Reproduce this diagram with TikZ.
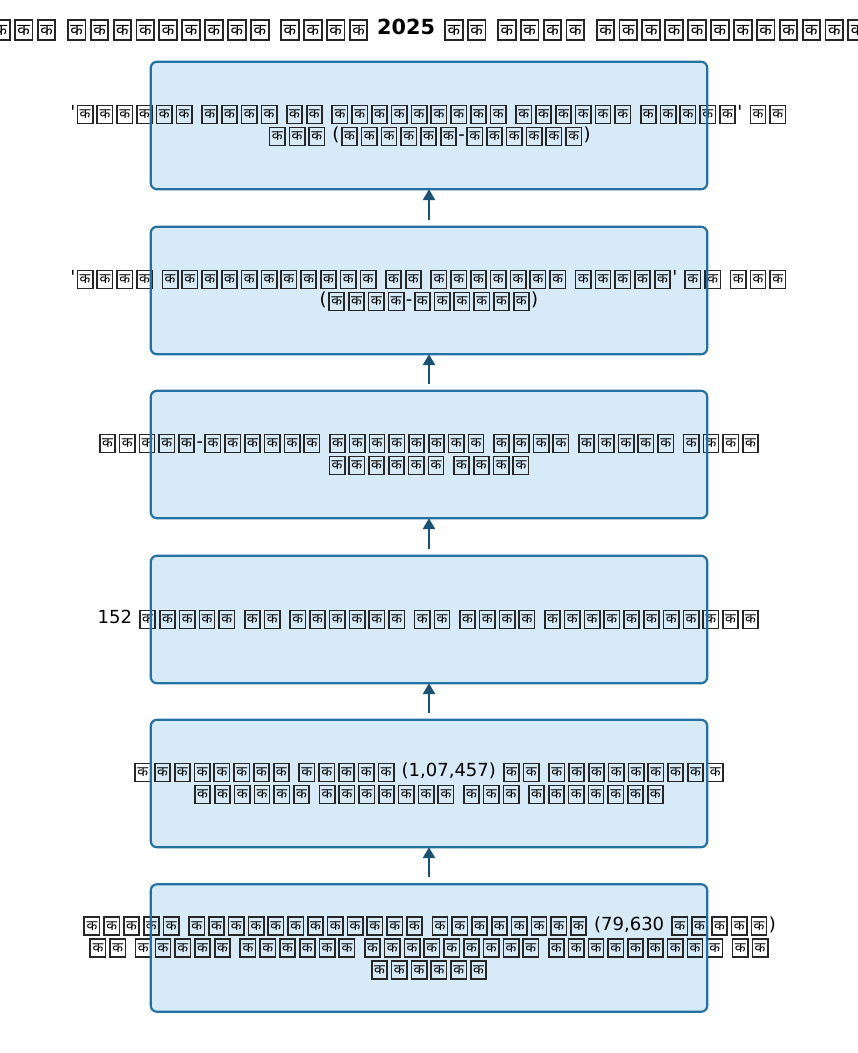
\documentclass[tikz,border=0pt]{standalone}
\usepackage{fontspec}
\setmainfont{DejaVu Sans}
\newfontfamily\devf[Script=Devanagari]{Noto Sans}
\definecolor{boxfill}{HTML}{D6EAF8}
\definecolor{boxedge}{HTML}{2471A3}
\definecolor{arrowc}{HTML}{1A5276}
\newcommand\kb{\kern0.08em\relax\raisebox{-0.21em}{\color{black!85}\setlength\fboxsep{0pt}\setlength\fboxrule{0.09em}\fbox{\vbox to 0.9em{\vss\hbox to 0.76em{\hss\color{black}\devf\scalebox{0.78}{क}\hss}\vss}}}\kern0.08em\relax}
\ExplSyntaxOn
\NewDocumentCommand\kx{m}{\prg_replicate:nn{#1}{\kb}}
\ExplSyntaxOff
\usetikzlibrary{arrows.meta}
\tikzset{
  stepfill/.style={fill=boxfill, draw=none, rounded corners=6pt, minimum width=556pt, minimum height=127pt, inner sep=0pt},
  stepline/.style={draw=boxedge, line width=2.2pt, rounded corners=6pt},
  steptext/.style={align=center, font=\fontsize{18}{22}\selectfont, inner sep=0pt},
  flow/.style={draw=arrowc, line width=2.7pt, -{Triangle[length=11pt,width=12pt]}},
  titletext/.style={font=\fontsize{20.8}{25}\selectfont\bfseries, inner sep=0pt}
}
\begin{document}
\begin{tikzpicture}[x=1pt,y=-1pt]
\useasboundingbox (0,0) rectangle (858,1053);
\node[titletext] (title) at (429,30) {\kx{3} \kx{9} \kx{4} 2025 \kx{2} \kx{4} \kx{12}};
\node[stepfill] (b1) at (429,125.5) {};
\node[stepfill] (b2) at (429,290.5) {};
\node[stepfill] (b3) at (429,454.5) {};
\node[stepfill] (b4) at (429,619.5) {};
\node[stepfill] (b5) at (429,783.5) {};
\node[stepfill] (b6) at (429,948) {};
\node[steptext] (t1) at (b1.center) {\textquotesingle\kx{6} \kx{4} \kx{2} \kx{9} \kx{6} \kx{5}\textquotesingle{} \kx{2}\\ \kx{3} (\kx{6}-\kx{6})};
\node[steptext] (t2) at (b2.center) {\textquotesingle\kx{4} \kx{11} \kx{2} \kx{7} \kx{5}\textquotesingle{} \kx{2} \kx{3}\\ (\kx{4}-\kx{6})};
\node[steptext] (t3) at (b3.center) {\kx{5}-\kx{6} \kx{8} \kx{4} \kx{5} \kx{4}\\ \kx{6} \kx{4}};
\node[steptext] (t4) at (b4.center) {152 \kx{5} \kx{2} \kx{6} \kx{2} \kx{4} \kx{11}};
\node[steptext] (t5) at (b5.center) {\kx{8} \kx{5} (1,07,457) \kx{2} \kx{9}\\ \kx{6} \kx{7} \kx{3} \kx{7}};
\node[steptext] (t6) at (b6.center) {\kx{5} \kx{12} \kx{8} (79,630 \kx{5})\\ \kx{2} \kx{5} \kx{6} \kx{9} \kx{9} \kx{2}\\ \kx{6}};
\foreach \b in {b1,b2,b3,b4,b5,b6}
  \draw[stepline] (\b.north west) rectangle (\b.south east);
\draw[flow] ([yshift=7pt]b6.north) -- (b5.south);
\draw[flow] ([yshift=7pt]b5.north) -- (b4.south);
\draw[flow] ([yshift=7pt]b4.north) -- (b3.south);
\draw[flow] ([yshift=7pt]b3.north) -- (b2.south);
\draw[flow] ([yshift=7pt]b2.north) -- (b1.south);
\end{tikzpicture}
\end{document}
